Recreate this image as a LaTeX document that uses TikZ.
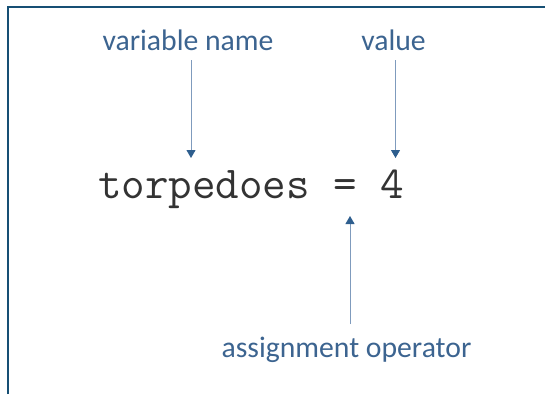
\documentclass[tikz,border=0pt]{standalone}
\usepackage{fontspec}
\setmainfont{Carlito}
\usetikzlibrary{arrows.meta}
\definecolor{frameblue}{HTML}{164F74}
\definecolor{labelblue}{HTML}{3C6490}
\definecolor{arrowline}{HTML}{7F9BBD}
\definecolor{arrowhead}{HTML}{2E5E8E}
\tikzset{
  lbl/.style={font=\fontsize{29.7}{32}\selectfont, text=labelblue, inner sep=0pt, anchor=base},
  code/.style={font=\ttfamily\fontsize{45.7}{48}\selectfont, text=black!80, inner sep=0pt, anchor=base},
  pointer/.style={draw=arrowline, line width=0.9pt, -{Triangle[length=8pt,width=9pt,color=arrowhead]}},
}
\begin{document}
\begin{tikzpicture}[x=1pt,y=-1pt]
\useasboundingbox (0,0) rectangle (545,394);
\draw[frameblue, line width=2.2pt] (8,394) -- (8,7) -- (545,7);
% labels
\node[lbl] (varname) at (188,50) {variable name};
\node[lbl] (value) at (393.5,50) {value};
\node[lbl] (assign) at (346.5,357) {assignment operator};
% code
\node[code] (stmt) at (251,198) {torpedoes = 4};
% anchor points
\coordinate (vtop) at (191,60);
\coordinate (vtip) at (191,158);
\coordinate (atop) at (395.5,60);
\coordinate (atip) at (395.5,158);
\coordinate (obot) at (350,324);
\coordinate (otip) at (350,216);
\draw[pointer] (vtop) -- (vtip);
\draw[pointer] (atop) -- (atip);
\draw[pointer] (obot) -- (otip);
\end{tikzpicture}
\end{document}
